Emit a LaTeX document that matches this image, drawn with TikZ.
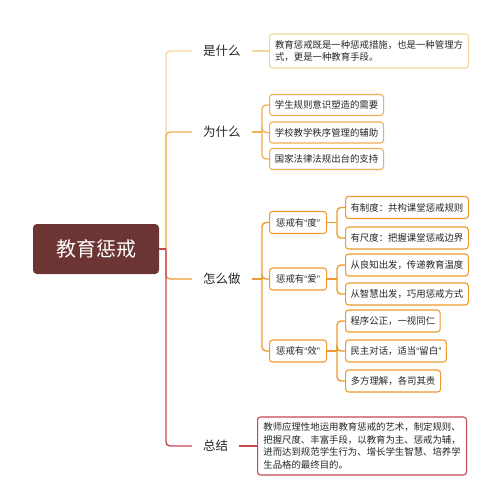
\documentclass[tikz,border=0pt]{standalone}
\usepackage{fontspec}
\setmainfont{Noto Sans CJK SC}
\newfontfamily\qf{Liberation Sans}
\newcommand{\myLq}{{\qf “}}
\newcommand{\myRq}{{\qf ”}}
\definecolor{cyel}{HTML}{F5D69B}
\definecolor{cora}{HTML}{F1AE55}
\definecolor{corb}{HTML}{EE9A2E}
\definecolor{cred}{HTML}{C4474F}
\definecolor{croot}{HTML}{6D3434}
\begin{document}
\begin{tikzpicture}[x=1pt,y=-1pt,
  rootbox/.style={fill=croot,rounded corners=4pt,text=white,minimum width=126pt,minimum height=50pt,font=\fontsize{20}{24}\selectfont},
  lab/.style={anchor=west,inner xsep=11pt,inner ysep=2pt,font=\fontsize{12.5}{14}\selectfont,text=black!85},
  bx/.style={draw,rounded corners=3pt,fill=white,line width=1.1pt,font=\fontsize{9.4}{12.5}\selectfont,inner xsep=5pt,inner ysep=0pt,minimum height=22pt,anchor=west,align=left,text=black!85},
  lnk/.style={line width=1.4pt,rounded corners=4pt}]
\useasboundingbox (0,0) rectangle (502,500);
% root
\node[rootbox] (root) at (96,249) {教育惩戒};
\coordinate (sp) at (166,249);
% level 1 labels
\node[lab] (l1) at (192,51) {是什么};
\node[lab] (l2) at (192,132) {为什么};
\node[lab] (l3) at (192,279) {怎么做};
\node[lab] (l4) at (192,446) {总结};
% spine
\draw[lnk,cyel] (sp) |- (l1.west);
\draw[lnk,cora] (sp) |- (l2.west);
\draw[lnk,corb] (sp) |- (l3.west);
\draw[lnk,cred] (sp) |- (l4.west);
\draw[lnk,cred] (root.east) -- (sp);
% 是什么
\node[bx,draw=cyel,minimum width=199pt,minimum height=34pt] (a1) at (269,51) {教育惩戒既是一种惩戒措施，也是一种管理方\\式，更是一种教育手段。};
\draw[lnk,cyel] (l1.east) -- (a1.west);
% 为什么
\node[bx,draw=cora,minimum width=114pt,minimum height=21pt] (b1) at (269,105) {学生规则意识塑造的需要};
\node[bx,draw=cora,minimum width=114pt,minimum height=21pt] (b2) at (269,132.5) {学校教学秩序管理的辅助};
\node[bx,draw=cora,minimum width=114pt,minimum height=21pt] (b3) at (269,159) {国家法律法规出台的支持};
\coordinate (s2) at (262,132);
\draw[lnk,cora] (l2.east) -- (s2);
\draw[lnk,cora] (s2) |- (b1.west);
\draw[lnk,cora] (s2) |- (b2.west);
\draw[lnk,cora] (s2) |- (b3.west);
% 怎么做
\node[bx,draw=corb,minimum width=57pt] (c1) at (269,222.5) {惩戒有\myLq 度\myRq};
\node[bx,draw=corb,minimum width=57pt] (c2) at (269,279) {惩戒有\myLq 爱\myRq};
\node[bx,draw=corb,minimum width=57pt] (c3) at (269,351) {惩戒有\myLq 效\myRq};
\coordinate (s3) at (262,279);
\draw[lnk,corb] (l3.east) -- (s3);
\draw[lnk,corb] (s3) |- (c1.west);
\draw[lnk,corb] (s3) |- (c2.west);
\draw[lnk,corb] (s3) |- (c3.west);
% level 3
\node[bx,draw=corb,minimum width=121pt] (d1) at (345,207.5) {有制度：共构课堂惩戒规则};
\node[bx,draw=corb,minimum width=121pt] (d2) at (345,238) {有尺度：把握课堂惩戒边界};
\node[bx,draw=corb,minimum width=121pt] (d3) at (345,265) {从良知出发，传递教育温度};
\node[bx,draw=corb,minimum width=121pt] (d4) at (345,294) {从智慧出发，巧用惩戒方式};
\node[bx,draw=corb,minimum width=93pt] (e1) at (345,321) {程序公正，一视同仁};
\node[bx,draw=corb,minimum width=100pt] (e2) at (345,351) {民主对话，适当\myLq 留白\myRq};
\node[bx,draw=corb,minimum width=95pt] (e3) at (345,381) {多方理解，各司其责};
\coordinate (t1) at (337,222.5);
\coordinate (t2) at (337,279);
\coordinate (t3) at (337,351);
\draw[lnk,corb] (c1.east) -- (t1);
\draw[lnk,corb] (t1) |- (d1.west);
\draw[lnk,corb] (t1) |- (d2.west);
\draw[lnk,corb] (c2.east) -- (t2);
\draw[lnk,corb] (t2) |- (d3.west);
\draw[lnk,corb] (t2) |- (d4.west);
\draw[lnk,corb] (c3.east) -- (t3);
\draw[lnk,corb] (t3) |- (e1.west);
\draw[lnk,corb] (t3) |- (e2.west);
\draw[lnk,corb] (t3) |- (e3.west);
% 总结
\node[bx,draw=cred,minimum width=209pt,minimum height=58pt] (f1) at (257,446) {教师应理性地运用教育惩戒的艺术，制定规则、\\把握尺度、丰富手段，以教育为主、惩戒为辅，\\进而达到规范学生行为、增长学生智慧、培养学\\生品格的最终目的。};
\draw[lnk,cred] (l4.east) -- (f1.west);
\end{tikzpicture}
\end{document}
